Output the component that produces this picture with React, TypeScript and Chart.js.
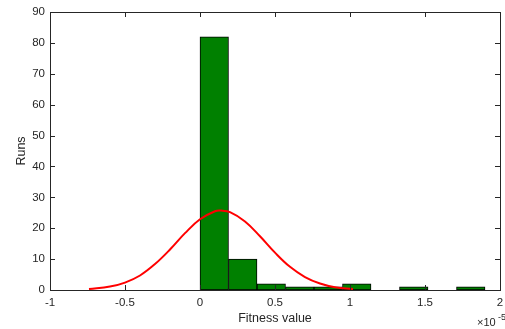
import { useEffect, useRef } from 'react';
import { Chart, registerables } from 'chart.js';

Chart.register(...registerables);

// Histogram bins (x in units of 1e-5)
const binCenters = [0.095, 0.285, 0.475, 0.665, 0.855, 1.045, 1.235, 1.425, 1.615, 1.805];
const binCounts = [82, 10, 2, 1, 1, 2, 0, 1, 0, 1];

// Fitted normal curve
const curveX = [-0.74, -0.6, -0.5, -0.4, -0.3, -0.2, -0.1, 0, 0.1, 0.14, 0.2, 0.3, 0.4, 0.5, 0.6, 0.7, 0.8, 0.9, 1.02];
const curveY = [0.3, 1.1, 2.4, 4.7, 8.4, 13.1, 18.4, 22.9, 25.5, 25.7, 25.2, 22.2, 17.4, 12.1, 7.5, 4.2, 2.1, 0.9, 0.3];

const xTicks = [-1, -0.5, 0, 0.5, 1, 1.5, 2];
const xTickLabels = ['-1', '-0.5', '0', '0.5', '1', '1.5', '2'];
const yTicks = [0, 10, 20, 30, 40, 50, 60, 70, 80, 90];

const AXIS = '#262626';
const FONT = '"Liberation Sans", Arial, Helvetica, sans-serif';

const boxPlugin = {
  id: 'matlabBox',
  afterDatasetsDraw(chart: any) {
    const { ctx, chartArea: a, scales } = chart;
    const xs = scales.x;
    const ys = scales.y;
    ctx.save();
    ctx.strokeStyle = AXIS;
    ctx.lineWidth = 1;
    const L = 5;
    ctx.beginPath();
    xs.ticks.forEach((t: any) => {
      const px = Math.round(xs.getPixelForValue(t.value)) + 0.5;
      ctx.moveTo(px, a.bottom);
      ctx.lineTo(px, a.bottom - L);
      ctx.moveTo(px, a.top);
      ctx.lineTo(px, a.top + L);
    });
    ys.ticks.forEach((t: any) => {
      const py = Math.round(ys.getPixelForValue(t.value)) + 0.5;
      ctx.moveTo(a.left, py);
      ctx.lineTo(a.left + L, py);
      ctx.moveTo(a.right, py);
      ctx.lineTo(a.right - L, py);
    });
    ctx.stroke();
    ctx.strokeRect(Math.round(a.left) + 0.5, Math.round(a.top) + 0.5, Math.round(a.right - a.left), Math.round(a.bottom - a.top));
    // exponent label
    ctx.fillStyle = AXIS;
    ctx.textBaseline = 'alphabetic';
    ctx.textAlign = 'left';
    ctx.font = `11px ${FONT}`;
    ctx.fillText('\u00d710', 477, 326);
    ctx.font = `9px ${FONT}`;
    ctx.fillText('-5', 498, 320);
    ctx.restore();
  },
};

export default function App() {
  const ref = useRef<HTMLCanvasElement>(null);
  useEffect(() => {
    if (!ref.current) return;
    const chart = new Chart(ref.current, {
      type: 'bar',
      data: {
        datasets: [
          {
            type: 'line',
            data: curveX.map((x, i) => ({ x, y: curveY[i] })),
            borderColor: '#ff0000',
            borderWidth: 2,
            pointRadius: 0,
            tension: 0.4,
            fill: false,
            order: 0,
          } as any,
          {
            type: 'bar',
            data: binCenters.map((x, i) => ({ x, y: binCounts[i] })),
            backgroundColor: '#008000',
            borderColor: '#000000',
            borderWidth: 1,
            borderSkipped: false,
            barPercentage: 1,
            categoryPercentage: 1,
            order: 1,
          } as any,
        ],
      },
      options: {
        animation: false,
        responsive: true,
        maintainAspectRatio: false,
        layout: { padding: { top: 12, right: 0, left: 0, bottom: 0 } },
        plugins: { legend: { display: false }, tooltip: { enabled: false } },
        scales: {
          x: {
            type: 'linear',
            min: -1,
            max: 2,
            offset: false,
            afterBuildTicks: (s: any) => {
              s.ticks = xTicks.map((v) => ({ value: v }));
            },
            afterFit: (s: any) => {
              s.height = 39;
              s.paddingRight = 5;
              s.paddingLeft = 0;
            },
            grid: { display: false, drawTicks: false, offset: false },
            border: { display: false },
            ticks: {
              color: AXIS,
              font: { family: FONT, size: 11.5 },
              padding: 6,
              maxRotation: 0,
              callback: (v: any) => xTickLabels[xTicks.indexOf(v)] ?? '',
            },
            title: {
              display: true,
              text: 'Fitness value',
              color: AXIS,
              font: { family: FONT, size: 12.5 },
              padding: { top: 0, bottom: 3 },
            },
          },
          y: {
            min: 0,
            max: 90,
            afterBuildTicks: (s: any) => {
              s.ticks = yTicks.map((v) => ({ value: v }));
            },
            afterFit: (s: any) => {
              s.width = 50;
            },
            grid: { display: false, drawTicks: false },
            border: { display: false },
            ticks: {
              color: AXIS,
              font: { family: FONT, size: 11.5 },
              padding: 5,
            },
            title: {
              display: true,
              text: 'Runs',
              color: AXIS,
              font: { family: FONT, size: 12.5 },
              padding: { top: 14, bottom: 0 },
            },
          },
        },
      },
      plugins: [boxPlugin],
    });
    return () => chart.destroy();
  }, []);
  return (
    <div style={{ position: 'absolute', left: 0, top: 0, width: 505, height: 329, background: '#ffffff' }}>
      <canvas ref={ref} />
    </div>
  );
}
